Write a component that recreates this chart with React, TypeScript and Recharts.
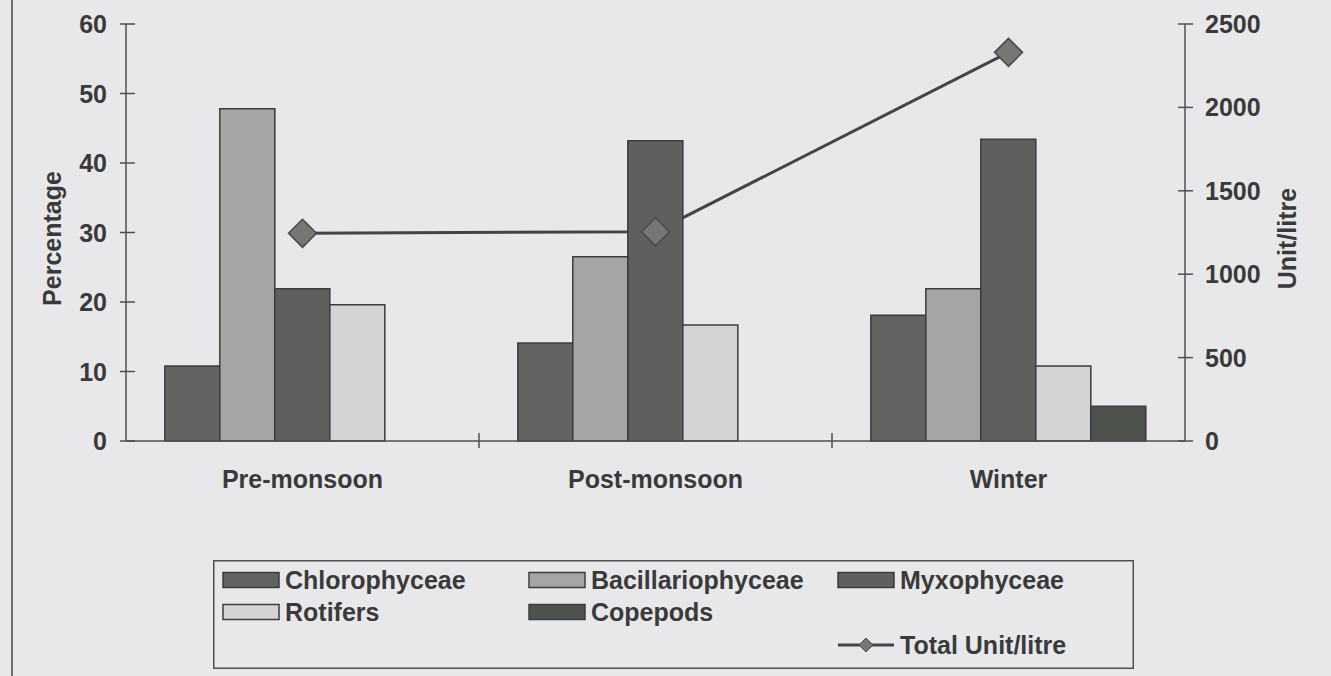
import { Bar, ComposedChart, Legend, Line, XAxis, YAxis } from "recharts";

const categories = ["Pre-monsoon", "Post-monsoon", "Winter"];
const chlorophyceae = [10.8, 14.1, 18.1];
const bacillariophyceae = [47.8, 26.5, 21.9];
const myxophyceae = [21.9, 43.2, 43.4];
const rotifers = [19.6, 16.7, 10.8];
const copepods = [0, 0, 5.0];
const totalUnits = [1245, 1255, 2330];

const percentTicks = [0, 10, 20, 30, 40, 50, 60];
const unitTicks = [0, 500, 1000, 1500, 2000, 2500];

const data = categories.map((season, i) => ({
  season,
  chlorophyceae: chlorophyceae[i],
  bacillariophyceae: bacillariophyceae[i],
  myxophyceae: myxophyceae[i],
  rotifers: rotifers[i],
  copepods: copepods[i],
  total: totalUnits[i]
}));

const FONT = "'Liberation Sans', Arial, sans-serif";
const INK = "#3a3a3a";
const AXIS = "#505050";
const BG = "#e8e8eb";
const EDGE = "#3c3c3c";

const textStyle = { fontFamily: FONT, fontSize: 25, fontWeight: 700, fill: INK };

function LeftTick(props: any) {
  const { x, y, payload } = props;
  return (
    <g>
      <line x1={x - 6} x2={x + 9} y1={y} y2={y} stroke={AXIS} strokeWidth={1.5} />
      <text x={x - 19} y={y} dy={9} textAnchor="end" {...textStyle}>
        {payload.value}
      </text>
    </g>
  );
}

function RightTick(props: any) {
  const { x, y, payload } = props;
  return (
    <g>
      <line x1={x - 7} x2={x + 8} y1={y} y2={y} stroke={AXIS} strokeWidth={1.5} />
      <text x={x + 20} y={y} dy={9} textAnchor="start" {...textStyle}>
        {payload.value}
      </text>
    </g>
  );
}

function SeasonTick(props: any) {
  const { x, y, payload, index, width } = props;
  const half = payload.offset ?? width / categories.length / 2;
  return (
    <g>
      {index < categories.length - 1 && (
        <line x1={x + half} x2={x + half} y1={y - 8} y2={y + 7} stroke={AXIS} strokeWidth={1.5} />
      )}
      <text x={x} y={y + 47} textAnchor="middle" {...textStyle}>
        {payload.value}
      </text>
    </g>
  );
}

function Diamond(props: any) {
  const { cx, cy } = props;
  if (cx == null || cy == null) return null;
  const r = 14;
  return (
    <path
      d={`M${cx},${cy - r}L${cx + r},${cy}L${cx},${cy + r}L${cx - r},${cy}Z`}
      fill="#747773"
      stroke="#4a4a4a"
      strokeWidth={1.5}
    />
  );
}

const legendSlots: Record<string, [number, number]> = {
  Chlorophyceae: [10, 20],
  Bacillariophyceae: [316, 20],
  Myxophyceae: [625, 20],
  Rotifers: [10, 52],
  Copepods: [316, 52],
  "Total Unit/litre": [625, 85]
};

function LegendBox(props: any) {
  const items = (props.payload ?? []).filter((p: any) => legendSlots[p.value]);
  return (
    <svg width={921} height={109} style={{ display: "block" }}>
      <rect x={0.75} y={0.75} width={919.5} height={107.5} fill="none" stroke={AXIS} strokeWidth={1.5} />
      {items.map((entry: any) => {
        const [sx, cy] = legendSlots[entry.value];
        const isLine = entry.type === "line" || entry.value === "Total Unit/litre";
        return (
          <g key={entry.value}>
            {isLine ? (
              <g>
                <line x1={sx} x2={sx + 56} y1={cy} y2={cy} stroke={entry.color} strokeWidth={3} />
                <path
                  d={`M${sx + 28},${cy - 7}L${sx + 35},${cy}L${sx + 28},${cy + 7}L${sx + 21},${cy}Z`}
                  fill="#747773"
                  stroke="#4a4a4a"
                  strokeWidth={1}
                />
              </g>
            ) : (
              <rect x={sx} y={cy - 7.5} width={56} height={15} fill={entry.color} stroke={EDGE} strokeWidth={1.5} />
            )}
            <text x={sx + 62} y={cy} dy={9} textAnchor="start" {...textStyle}>
              {entry.value}
            </text>
          </g>
        );
      })}
    </svg>
  );
}

function AxisTitle({ viewBox, value, dx }: any) {
  const cx = viewBox.x + dx;
  const cy = viewBox.y + viewBox.height / 2 + 6;
  return (
    <text
      x={cx}
      y={cy}
      transform={`rotate(-90, ${cx}, ${cy})`}
      textAnchor="middle"
      dominantBaseline="central"
      {...textStyle}
    >
      {value}
    </text>
  );
}

export default function App() {
  return (
    <div style={{ position: "fixed", left: 0, top: 0, width: 1331, height: 676, background: BG }}>
      <div style={{ position: "absolute", left: 11, top: 0, width: 2, height: 676, background: "#6e6e6e" }} />
      <ComposedChart
        width={1331}
        height={676}
        data={data}
        margin={{ top: 24, right: 145, bottom: 7, left: 125 }}
        barCategoryGap="11%"
        barGap={0}
      >
        <XAxis
          dataKey="season"
          height={119}
          stroke={AXIS}
          strokeWidth={1.5}
          tickLine={false}
          tickSize={0}
          tickMargin={0}
          tick={<SeasonTick />}
          interval={0}
        />
        <YAxis
          yAxisId="left"
          width={1}
          domain={[0, 60]}
          ticks={percentTicks}
          stroke={AXIS}
          strokeWidth={1.5}
          tickLine={false}
          tickSize={0}
          tickMargin={0}
          tick={<LeftTick />}
          label={<AxisTitle value="Percentage" dx={-73} />}
        />
        <YAxis
          yAxisId="right"
          orientation="right"
          width={1}
          domain={[0, 2500]}
          ticks={unitTicks}
          stroke={AXIS}
          strokeWidth={1.5}
          tickLine={false}
          tickSize={0}
          tickMargin={0}
          tick={<RightTick />}
          label={<AxisTitle value="Unit/litre" dx={102} />}
        />
        <Line
          yAxisId="right"
          dataKey="total"
          name="Total Unit/litre"
          stroke="#444444"
          strokeWidth={3}
          dot={false}
          activeDot={false}
          zIndex={250}
          isAnimationActive={false}
        />
        <Bar yAxisId="left" dataKey="chlorophyceae" name="Chlorophyceae" fill="#60635f" stroke={EDGE} strokeWidth={1.5} isAnimationActive={false} />
        <Bar yAxisId="left" dataKey="bacillariophyceae" name="Bacillariophyceae" fill="#a4a6a4" stroke={EDGE} strokeWidth={1.5} isAnimationActive={false} />
        <Bar yAxisId="left" dataKey="myxophyceae" name="Myxophyceae" fill="#5d605c" stroke={EDGE} strokeWidth={1.5} isAnimationActive={false} />
        <Bar yAxisId="left" dataKey="rotifers" name="Rotifers" fill="#d3d4d5" stroke={EDGE} strokeWidth={1.5} isAnimationActive={false} />
        <Bar yAxisId="left" dataKey="copepods" name="Copepods" fill="#4d524d" stroke={EDGE} strokeWidth={1.5} isAnimationActive={false} />
        <Line
          yAxisId="right"
          dataKey="total"
          name="Total markers"
          legendType="none"
          stroke="none"
          dot={<Diamond />}
          activeDot={false}
          zIndex={600}
          isAnimationActive={false}
        />
        <Legend
          verticalAlign="bottom"
          align="left"
          wrapperStyle={{ left: 213, bottom: 7, width: 921, height: 109 }}
          content={<LegendBox />}
        />
      </ComposedChart>
    </div>
  );
}
